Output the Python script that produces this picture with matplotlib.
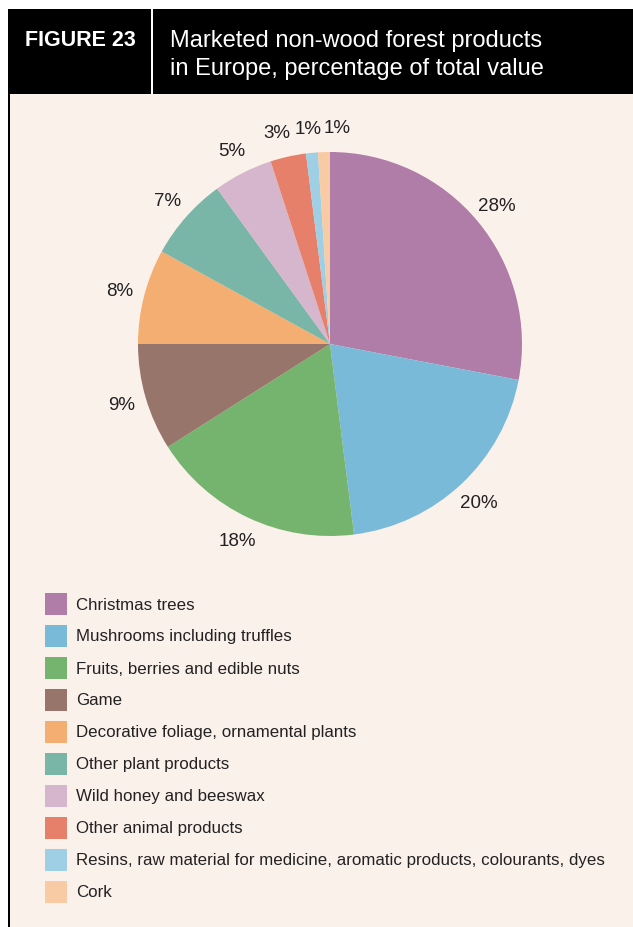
import matplotlib
matplotlib.use("Agg")
import matplotlib.pyplot as plt
from matplotlib.patches import Rectangle

categories = ["Christmas trees", "Mushrooms including truffles", "Fruits, berries and edible nuts",
              "Game", "Decorative foliage, ornamental plants", "Other plant products",
              "Wild honey and beeswax", "Other animal products",
              "Resins, raw material for medicine, aromatic products, colourants, dyes", "Cork"]
shares = [28, 20, 18, 9, 8, 7, 5, 3, 1, 1]
colors = ["#B07CA8", "#7ABAD9", "#75B46F", "#98756A", "#F4AE72",
          "#79B6A8", "#D6B6CC", "#E6806A", "#9FCFE4", "#F8CBA4"]

W, H = 633, 928
bg = "#FBF1EB"
plt.rcParams['font.family'] = ['Liberation Sans', 'DejaVu Sans']

fig = plt.figure(figsize=(W / 100, H / 100), dpi=100)
fig.patch.set_facecolor("white")

def fx(x): return x / W
def fy(y): return 1 - y / H

# body background + left border
fig.patches.append(Rectangle((fx(9), 0), fx(W - 9), fy(95), transform=fig.transFigure,
                             facecolor=bg, edgecolor="none", zorder=-10))
fig.patches.append(Rectangle((fx(8), 0), fx(2), fy(10), transform=fig.transFigure,
                             facecolor="black", edgecolor="none", zorder=-9))
# header band
fig.patches.append(Rectangle((fx(8), fy(95)), fx(W - 8), fy(10) - fy(95), transform=fig.transFigure,
                             facecolor="black", edgecolor="none", zorder=-9))
fig.patches.append(Rectangle((fx(151), fy(95)), fx(2), fy(10) - fy(95), transform=fig.transFigure,
                             facecolor="white", edgecolor="none", zorder=2))
fig.text(fx(25), fy(41), "FIGURE 23", color="white", fontsize=15.5, fontweight="bold",
         va="center", ha="left", zorder=3)
fig.text(fx(170), fy(41), "Marketed non-wood forest products", color="white", fontsize=17,
         va="center", ha="left", zorder=3)
fig.text(fx(170), fy(69), "in Europe, percentage of total value", color="white", fontsize=17,
         va="center", ha="left", zorder=3)

# pie
cx, cy, r = 330, 345, 192
ax = fig.add_axes([fx(cx - r), fy(cy + r), fx(2 * r), fy(cy - r) - fy(cy + r)])
ax.set_zorder(5)
ax.set_facecolor("none")
wedges, texts = ax.pie(shares, colors=colors, startangle=90, counterclock=False,
                       labels=[f"{v}%" for v in shares], labeldistance=1.13,
                       wedgeprops=dict(linewidth=0),
                       textprops=dict(fontsize=13.5, color="#222222"))
for t in texts:
    t.set_ha("center")
    t.set_va("center")
# spread the crowded labels at the top
for t, dx in zip(texts[-3:], [-0.03, -0.01, 0.07]):
    px, py = t.get_position()
    t.set_position((px + dx, py))
ax.set_xlim(-1, 1)
ax.set_ylim(-1, 1)
ax.axis("off")

# legend
y0, step = 605, 32
for i, (name, c) in enumerate(zip(categories, colors)):
    y = y0 + i * step
    fig.patches.append(Rectangle((fx(45), fy(y + 11)), fx(22), fy(y - 11) - fy(y + 11),
                                 transform=fig.transFigure, facecolor=c, edgecolor="none", zorder=2))
    fig.text(fx(76), fy(y), name, fontsize=12.2, color="#222222", va="center", ha="left")

fig.savefig("out.png", dpi=100, facecolor=fig.get_facecolor())
